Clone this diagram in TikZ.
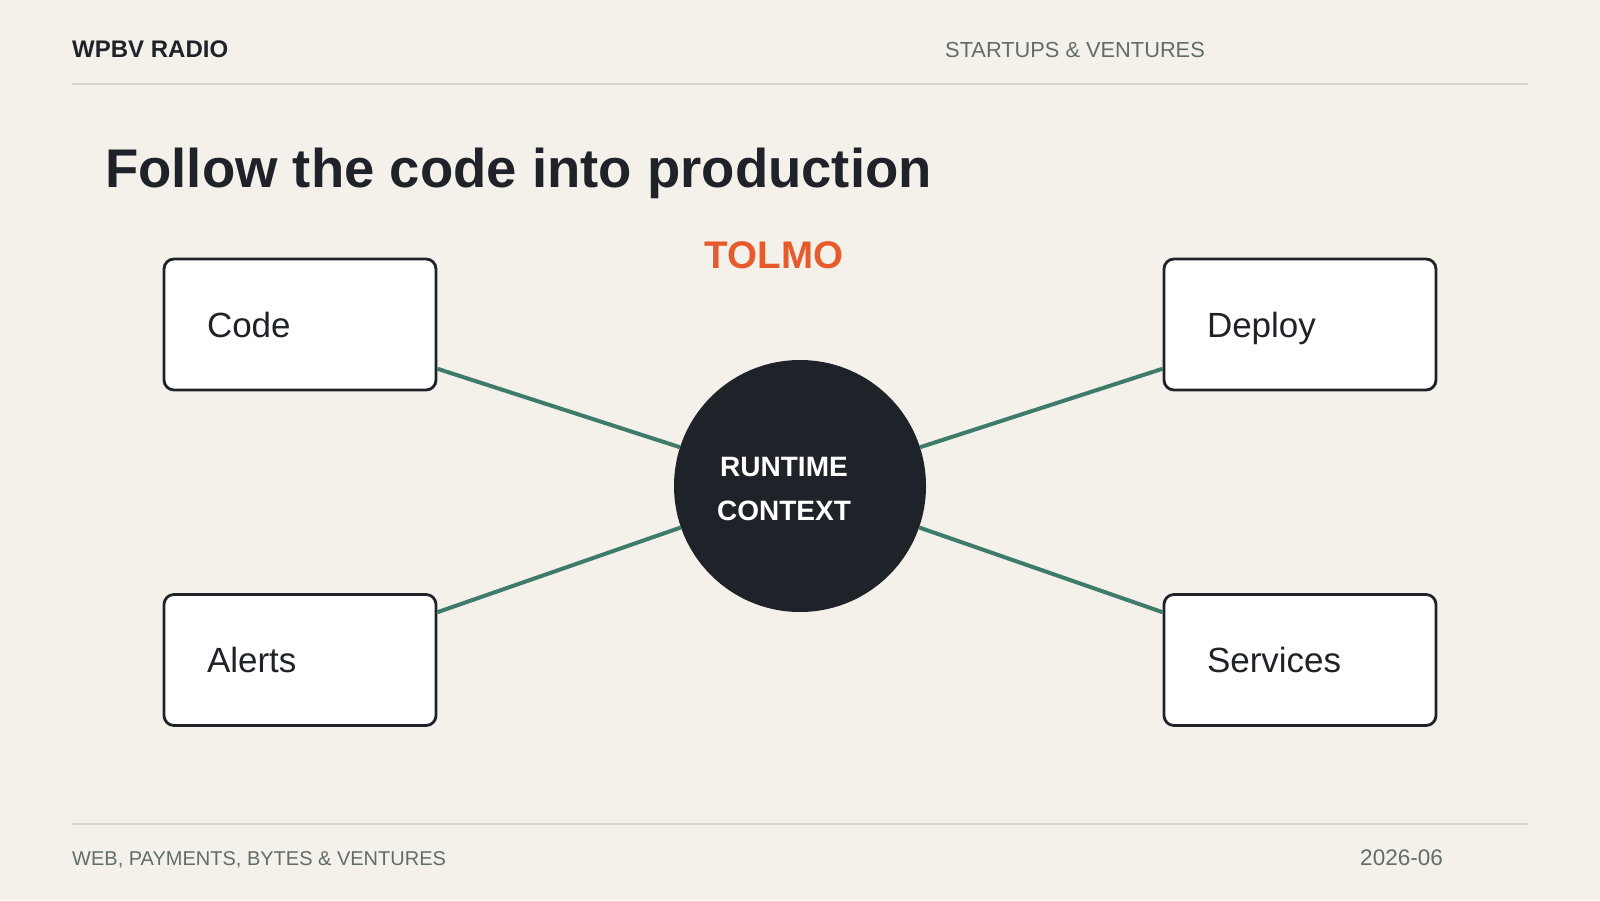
\documentclass[tikz,border=0pt]{standalone}
\usepackage{fontspec}
\setmainfont{Liberation Sans}
\usepackage{xcolor}
\definecolor{paper}{HTML}{F4F1EA}
\definecolor{ink}{HTML}{1F2329}
\definecolor{linkgreen}{HTML}{3E7B6B}
\definecolor{brand}{HTML}{E65A2B}
\definecolor{muted}{HTML}{626C69}
\definecolor{rulegray}{HTML}{D8D4CC}

\begin{document}
\begin{tikzpicture}[x=1pt, y=-1pt,
    card/.style={draw=ink, line width=2.8pt, fill=white, rounded corners=10pt,
                 minimum width=272pt, minimum height=131pt,
                 text width=186pt, inner xsep=43pt, inner ysep=0pt, align=left,
                 text height=25pt, text depth=0pt,
                 font=\fontsize{35}{42}\selectfont, text=ink},
    hub/.style={circle, fill=ink, minimum size=252pt, inner sep=0pt},
    link/.style={line width=4pt, linkgreen},
    hrule/.style={line width=2pt, rulegray},
    meta/.style={font=\fontsize{20}{25}\selectfont, text=muted, inner sep=0pt}
  ]
  % Page
  \fill[paper] (0,0) rectangle (1600,900);
  \useasboundingbox (0,0) rectangle (1600,900);
  % Header and footer
  \node[font=\fontsize{24}{28}\bfseries, text=ink, inner sep=0pt, anchor=base west] (brandname) at (72,57) {WPBV RADIO};
  \node[meta, font=\fontsize{21.8}{26}\selectfont, anchor=base west] (section) at (945,57) {STARTUPS \& VENTURES};
  \coordinate (hl) at (72,84);
  \coordinate (hr) at (1528,84);
  \draw[hrule] (hl) -- (hr);
  \coordinate (fl) at (72,824);
  \coordinate (fr) at (1528,824);
  \draw[hrule] (fl) -- (fr);
  \node[meta, anchor=base west] (tagline) at (72,865) {WEB, PAYMENTS, BYTES \& VENTURES};
  \node[meta, font=\fontsize{22.5}{26}\selectfont, anchor=base east] (issue) at (1443,865) {2026-06};
  % Title
  \node[font=\fontsize{54.5}{66}\bfseries, text=ink, inner sep=0pt, anchor=base west] (title) at (105,187)
        {Follow the code into production};
  \node[font=\fontsize{38.5}{46}\bfseries, text=brand, inner sep=0pt, anchor=base] (company) at (774,268) {TOLMO};
  % Hub and cards
  \node[hub] (ctx) at (800,486) {};
  \node[font=\fontsize{28}{44}\bfseries, text=white, align=center, inner sep=0pt] (ctxtext) at (784,489)
        {RUNTIME\\CONTEXT};
  \node[card] (code) at (300,324.5) {Code};
  \node[card] (deploy) at (1300,324.5) {Deploy};
  \node[card] (alerts) at (300,660) {Alerts};
  \node[card] (services) at (1300,660) {Services};
  % Spokes
  \foreach \n in {code,deploy,alerts,services}
    \draw[link] (\n) -- (ctx);
\end{tikzpicture}
\end{document}
